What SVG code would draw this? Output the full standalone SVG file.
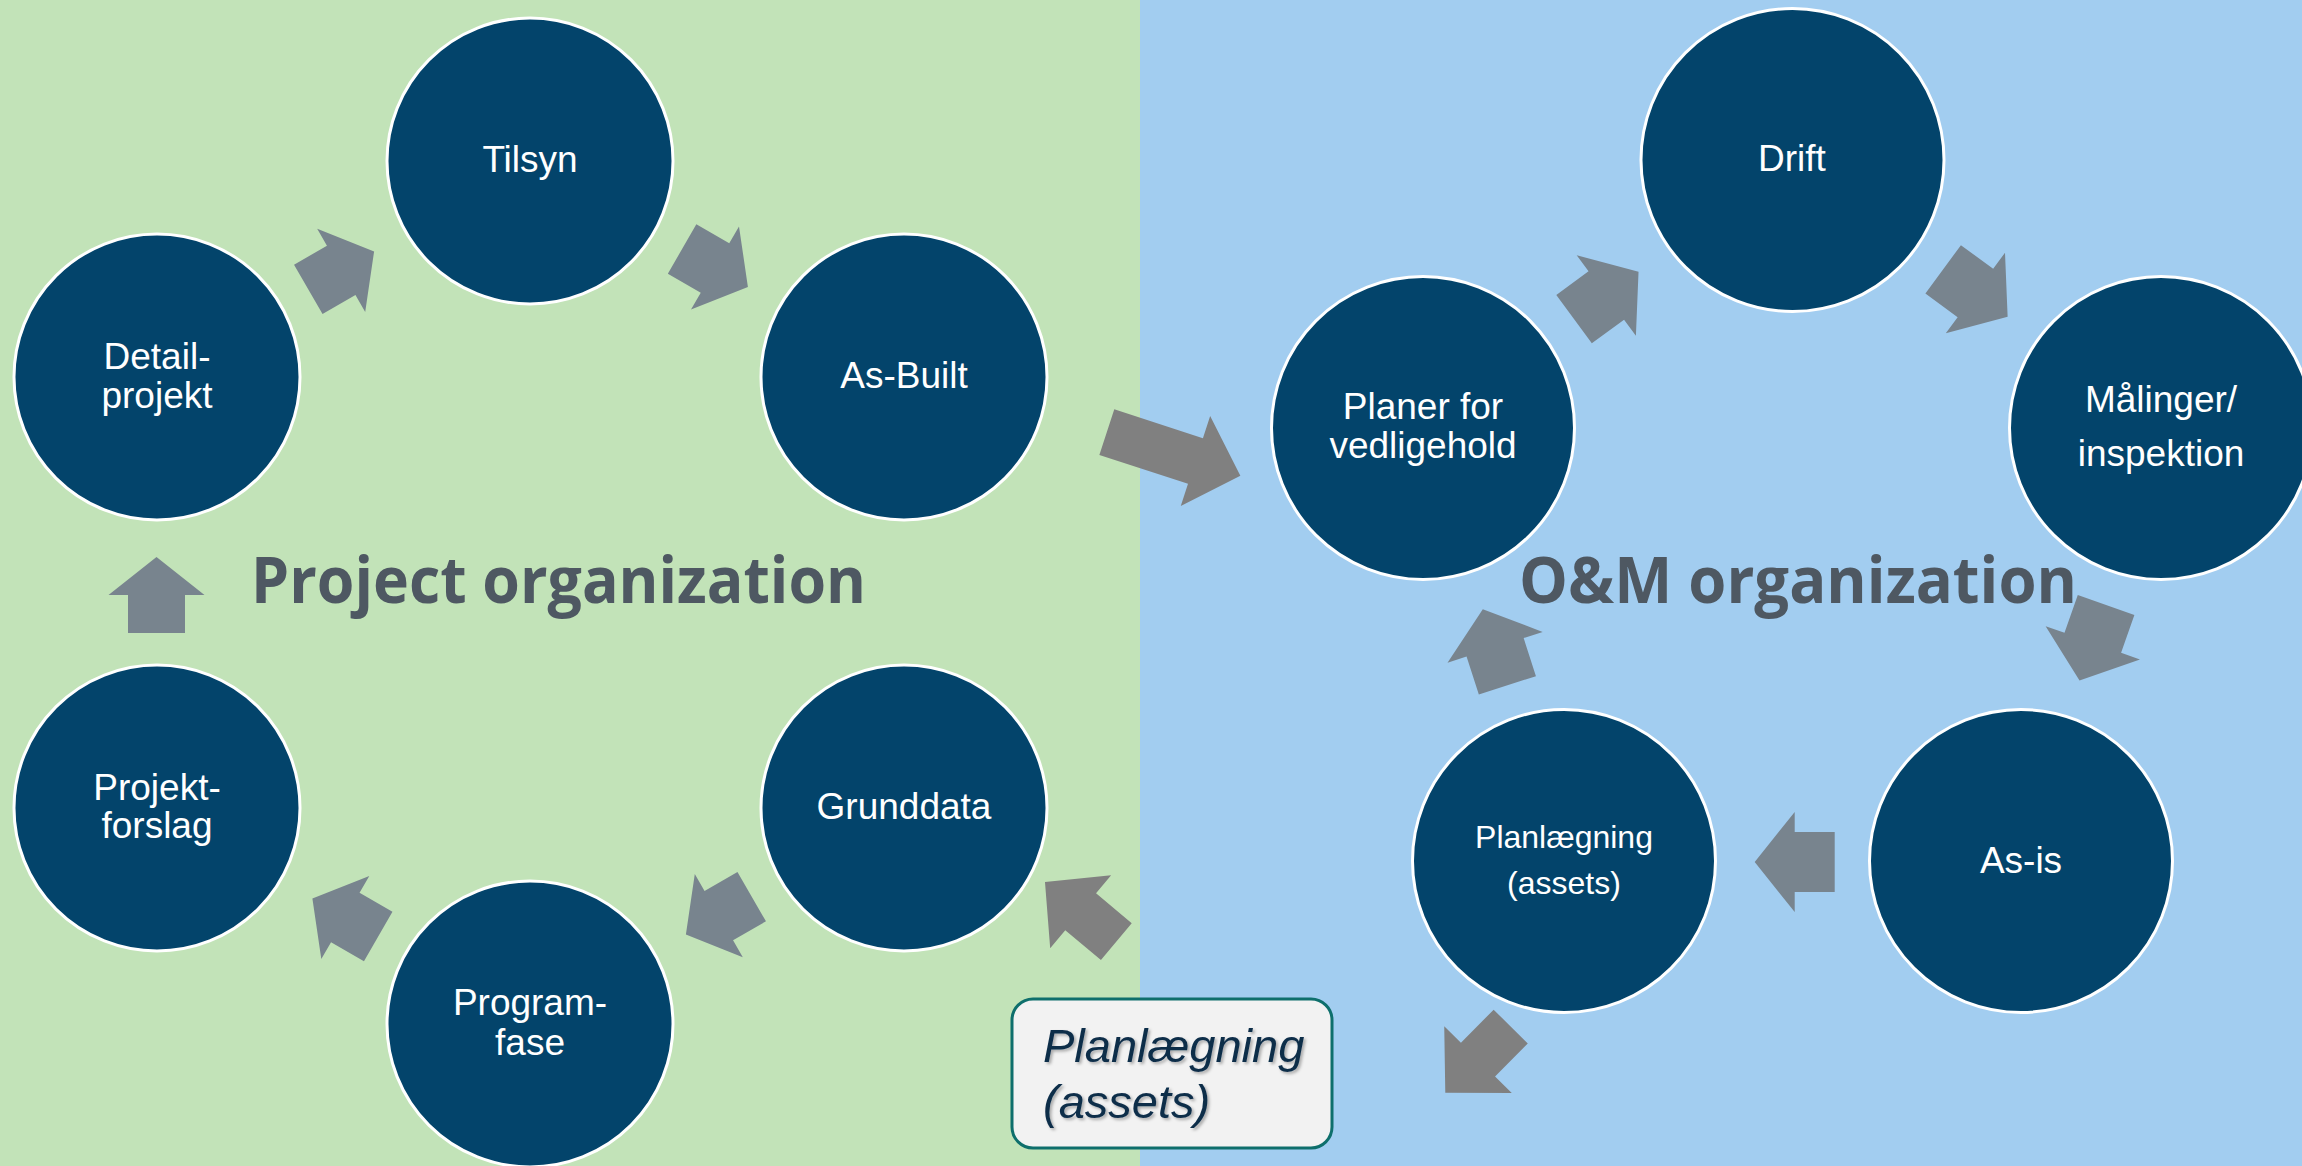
<svg xmlns="http://www.w3.org/2000/svg" xmlns:xlink="http://www.w3.org/1999/xlink" width="2302" height="1166" viewBox="0 0 2302 1166">
<style>
.node{fill:#03446b;stroke:#ffffff;stroke-width:3}
.lbl{fill:#ffffff;font-family:"Liberation Sans",Arial,sans-serif;font-size:37px;text-anchor:middle}
.small{font-size:32px}
.cyc{fill:#78848e}
.trn{fill:#808080}
.title{fill:#4e5862;font-family:"Open Sans","Noto Sans",sans-serif;font-weight:bold;font-size:64px}
.boxtxt{fill:#0d2d4a;font-family:"Liberation Sans",Arial,sans-serif;font-style:italic;font-size:47px}
</style>
<defs>
<polygon id="arrL" points="-38,-28.5 0,-28.5 0,-48 38,0 0,48 0,28.5 -38,28.5"/>
<polygon id="arrR" points="-40,-30 0,-30 0,-50 40,0 0,50 0,30 -40,30"/>
<polygon id="arrT" points="-46.5,-24 0,-24 0,-47.5 46.5,0 0,47.5 0,24 -46.5,24"/>
<polygon id="arrBig" points="-70.25,-24 23,-24 23,-47.3 70.25,0 23,47.3 23,24 -70.25,24"/>
<filter id="sh" x="-10%" y="-10%" width="130%" height="130%">
<feDropShadow dx="2" dy="2" stdDeviation="1.5" flood-color="#000000" flood-opacity="0.3"/>
</filter>
</defs>
<g id="background">
<rect x="0" y="0" width="1140" height="1166" fill="#c2e3b8"/>
<rect x="1140" y="0" width="1162" height="1166" fill="#a2cdf0"/>
</g>
<g id="connectors">
<use xlink:href="#arrL" class="cyc" transform="translate(341.2,270.4) rotate(-30)"/>
<use xlink:href="#arrL" class="cyc" transform="translate(715,268) rotate(30)"/>
<use xlink:href="#arrL" class="cyc" transform="translate(718.8,915.6) rotate(150)"/>
<use xlink:href="#arrL" class="cyc" transform="translate(345.3,917.5) rotate(-150)"/>
<use xlink:href="#arrL" class="cyc" transform="translate(156.5,595) rotate(-90)"/>
<use xlink:href="#arrR" class="cyc" transform="translate(1606.3,295.5) rotate(-36.3)"/>
<use xlink:href="#arrR" class="cyc" transform="translate(1975.4,293) rotate(36.3)"/>
<use xlink:href="#arrR" class="cyc" transform="translate(2092.8,642.8) rotate(109.4)"/>
<use xlink:href="#arrR" class="cyc" transform="translate(1794.7,862) rotate(180)"/>
<use xlink:href="#arrR" class="cyc" transform="translate(1495.1,647.3) rotate(-107.9)"/>
<use xlink:href="#arrBig" class="trn" transform="translate(1173.6,453.9) rotate(18.1)"/>
<use xlink:href="#arrT" class="trn" transform="translate(1478,1059.6) rotate(134.7)"/>
<use xlink:href="#arrT" class="trn" transform="translate(1080.65,911.75) rotate(-140.1)"/>
</g>
<g id="tilsyn"><circle class="node" cx="530" cy="161" r="143"/><text class="lbl" x="530" y="172">Tilsyn</text></g>
<g id="detailprojekt"><circle class="node" cx="157" cy="377" r="143"/><text class="lbl" x="157" y="369">Detail-</text><text class="lbl" x="157" y="408">projekt</text></g>
<g id="asbuilt"><circle class="node" cx="904" cy="377" r="143"/><text class="lbl" x="904" y="388">As-Built</text></g>
<g id="projektforslag"><circle class="node" cx="157" cy="808" r="143"/><text class="lbl" x="157" y="800">Projekt-</text><text class="lbl" x="157" y="838">forslag</text></g>
<g id="grunddata"><circle class="node" cx="904" cy="808" r="143"/><text class="lbl" x="904" y="819">Grunddata</text></g>
<g id="programfase"><circle class="node" cx="530" cy="1024" r="143"/><text class="lbl" x="530" y="1015">Program-</text><text class="lbl" x="530" y="1055">fase</text></g>
<g id="drift"><circle class="node" cx="1792.5" cy="160" r="151.5"/><text class="lbl" x="1792" y="171">Drift</text></g>
<g id="planer"><circle class="node" cx="1423" cy="428" r="151.5"/><text class="lbl" x="1423" y="419">Planer for</text><text class="lbl" x="1423" y="458">vedligehold</text></g>
<g id="maalinger"><circle class="node" cx="2161" cy="428" r="151.5"/><text class="lbl" x="2161" y="412">Målinger/</text><text class="lbl" x="2161" y="466">inspektion</text></g>
<g id="planlaegning"><circle class="node" cx="1564" cy="861" r="151.5"/><text class="lbl small" x="1564" y="848">Planlægning</text><text class="lbl small" x="1564" y="894">(assets)</text></g>
<g id="asis"><circle class="node" cx="2021" cy="861" r="151.5"/><text class="lbl" x="2021" y="873">As-is</text></g>
<g id="titles">
<text class="title" x="251" y="603" textLength="615" lengthAdjust="spacingAndGlyphs">Project organization</text>
<text class="title" x="1519" y="603" textLength="558" lengthAdjust="spacingAndGlyphs">O&amp;M organization</text>
</g>
<g id="planbox">
<rect x="1012" y="999" width="320" height="149" rx="21" ry="21" fill="#f2f2f2" stroke="#0e6f6c" stroke-width="3"/>
<g filter="url(#sh)">
<text class="boxtxt" x="1043" y="1062">Planlægning</text>
<text class="boxtxt" x="1043" y="1118">(assets)</text>
</g>
</g>
</svg>
